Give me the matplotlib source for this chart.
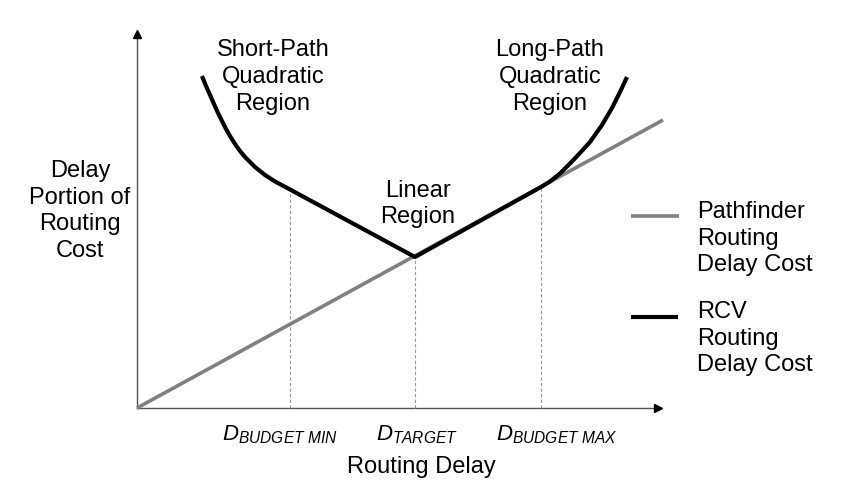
import matplotlib
matplotlib.use("Agg")
import matplotlib.pyplot as plt

plt.rcParams['font.family'] = ['Liberation Sans', 'DejaVu Sans']
plt.rcParams['mathtext.fontset'] = 'custom'
plt.rcParams['mathtext.it'] = 'Liberation Sans:italic'
plt.rcParams['mathtext.rm'] = 'Liberation Sans'

# Data (arbitrary delay / cost units)
pathfinder_delay = [0, 526]
pathfinder_cost = [0, 288]

rcv_delay = [65, 69, 73, 77, 81, 85, 89, 93, 98, 103, 108, 118, 128, 138, 148, 153, 278,
             404, 413, 423, 433, 443, 453, 465, 475, 483, 490]
rcv_cost = [332, 322, 313, 304, 295, 287, 279, 272, 264, 257, 251, 241, 233, 226.5, 221.2, 218.5, 151,
            221, 226.5, 234.5, 244.5, 255, 266, 283, 300, 316, 331]

marker_delays = [153, 278, 404]
marker_costs = [218.5, 151, 221]
marker_labels = [r'$D_{BUDGET\ MIN}$', r'$D_{TARGET}$', r'$D_{BUDGET\ MAX}$']
marker_label_x = [143, 280, 420]

region_labels = ['Short-Path\nQuadratic\nRegion', 'Linear\nRegion', 'Long-Path\nQuadratic\nRegion']
region_pos = [(136, 331), (281, 204), (413, 331)]

legend_labels = ['Pathfinder\nRouting\nDelay Cost', 'RCV\nRouting\nDelay Cost']

fig = plt.figure(figsize=(8.42, 4.88), dpi=100)
ax = fig.add_axes([0, 0, 1, 1])
ax.set_xlim(-137, 705)
ax.set_ylim(-80, 408)
ax.axis('off')

fs = 17
ls = 1.27

# axes with arrows
ax.plot([0, 0], [0, 372], color='#555555', lw=1.0, zorder=1)
ax.plot([0, 520], [0, 0], color='#555555', lw=1.0, zorder=1)
ax.plot([0], [374], marker='^', color='black', markersize=6, zorder=3)
ax.plot([521], [0], marker='>', color='black', markersize=6, zorder=3)

# dashed guide lines
for d, c in zip(marker_delays, marker_costs):
    ax.plot([d, d], [0, c], color='#999999', lw=0.8, ls=(0, (3, 2)), zorder=1)

# lines
ax.plot(pathfinder_delay, pathfinder_cost, color='#808080', lw=2.6,
        solid_capstyle='butt', zorder=2)
ax.plot(rcv_delay, rcv_cost, color='black', lw=3.0, solid_capstyle='butt',
        solid_joinstyle='round', zorder=3)

# tick labels
for x, lab in zip(marker_label_x, marker_labels):
    ax.text(x, -32, lab, fontsize=16, ha='center', va='baseline')

ax.text(284, -59, 'Routing Delay', fontsize=fs, ha='center', va='center')
ax.text(-57, 197, 'Delay\nPortion of\nRouting\nCost', fontsize=fs, ha='center',
        va='center', linespacing=ls)

for lab, (x, y) in zip(region_labels, region_pos):
    ax.text(x, y, lab, fontsize=fs, ha='center', va='center', linespacing=ls)

# legend
ax.plot([494, 542], [192, 192], color='#808080', lw=2.6, solid_capstyle='butt')
ax.plot([494, 541], [91, 91], color='black', lw=3.0, solid_capstyle='butt')
ax.text(560, 169.5, legend_labels[0], fontsize=fs, ha='left', va='center', linespacing=ls)
ax.text(560, 69.5, legend_labels[1], fontsize=fs, ha='left', va='center', linespacing=ls)

fig.savefig('out.png', dpi=100)
